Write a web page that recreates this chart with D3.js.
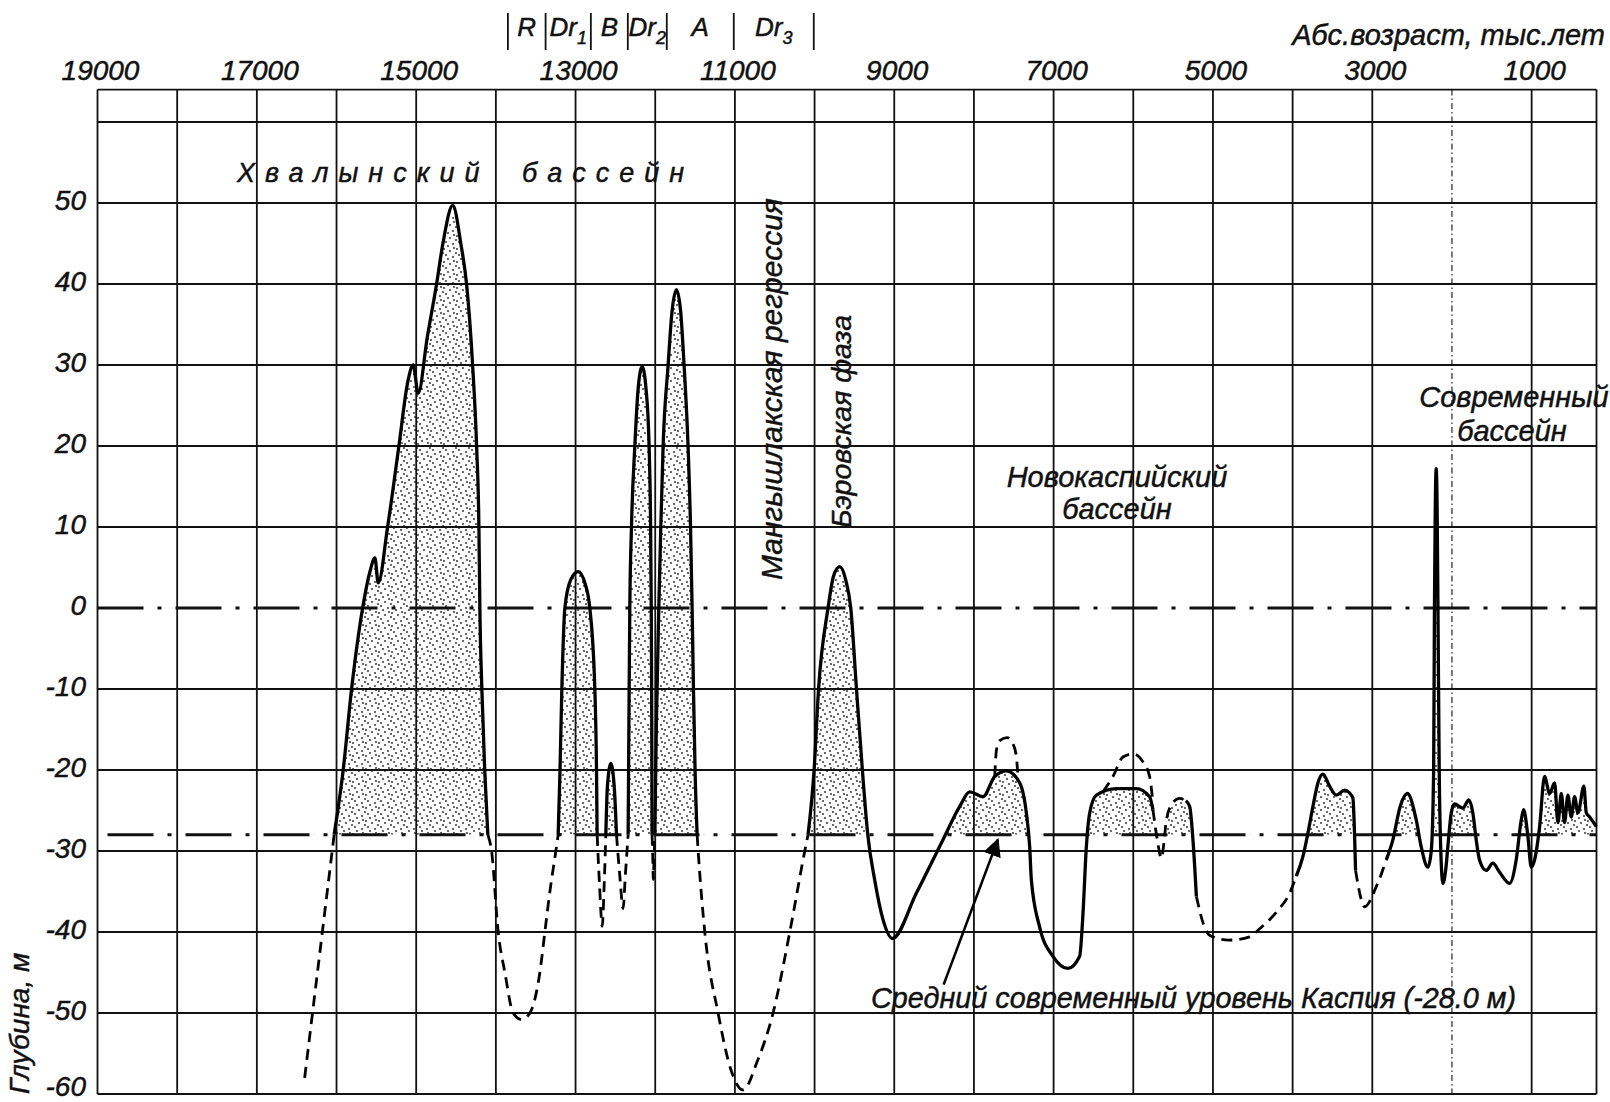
<!DOCTYPE html>
<html>
<head>
<meta charset="utf-8">
<script src="https://cdn.jsdelivr.net/npm/d3@7"></script>
<style>
  body { margin: 0; background: #fff; }
  text { font-family: "Liberation Sans", Arial, sans-serif; font-style: italic; fill: #111;
         stroke: #111; stroke-width: 0.45px; }
</style>
</head>
<body>
<div id="chart"></div>
<script>
// --- data ---
var yearLabels = [19000, 17000, 15000, 13000, 11000, 9000, 7000, 5000, 3000, 1000];
var gridYears = [19000, 18000, 17000, 16000, 15000, 14000, 13000, 12000, 11000, 10000,
                 9000, 8000, 7000, 6000, 5000, 4000, 3000, 2000, 1000];
var levelLabels = [50, 40, 30, 20, 10, 0, -10, -20, -30, -40, -50, -60];
var gridLevels = [60, 50, 40, 30, 20, 10, -10, -20, -30, -40, -50];
var refLevels = [0, -28];
var zoneBounds = [13849, 13376, 12808, 12344, 11855, 11014, 10010];
var zoneNames = [["R", ""], ["Dr", "1"], ["B", ""], ["Dr", "2"], ["A", ""], ["Dr", "3"]];

// level curve: [year, level, 1 = dashed segment starts here]
var levelCurve = [
  [16400, -58, 1], [16215, -43, 1], [16030, -28, 0], [15916, -20, 0], [15811, -10, 0],
  [15672, 0, 0], [15580, 4.5, 0], [15518, 6.2, 0], [15477, 3.1, 0], [15359, 10, 0],
  [15217, 20, 0], [15104, 28, 0], [15038, 30, 0], [14975, 26.5, 0], [14860, 33.5, 0],
  [14744, 40, 0], [14665, 45, 0], [14541, 49.7, 0], [14440, 45, 0], [14368, 40, 0],
  [14292, 30, 0], [14242, 20, 0], [14213, 10, 0], [14201, 0, 0], [14176, -10, 0],
  [14140, -20, 0], [14101, -28, 1], [14054, -30, 1], [13971, -40, 1], [13887, -45, 1],
  [13783, -50, 1], [13678, -50.8, 1], [13573, -50, 1], [13448, -45, 1], [13385, -40, 1],
  [13322, -35, 1], [13247, -30, 1], [13218, -28, 0], [13195, -20, 0], [13172, -10, 0],
  [13134, 0, 0], [13060, 3.5, 0], [12967, 4.5, 0], [12880, 3, 0], [12821, 0, 0],
  [12758, -10, 0], [12737, -20, 0], [12729, -28, 1], [12700, -34, 1], [12665, -39.3, 1],
  [12640, -34, 1], [12620, -28, 0], [12600, -22, 0], [12557, -19.2, 0], [12515, -22, 0],
  [12486, -28, 1], [12445, -33, 1], [12403, -37.1, 1], [12375, -33, 1], [12340, -28, 0],
  [12330, -14, 0], [12319, 0, 0], [12298, 10, 0], [12256, 20, 0], [12215, 27, 0],
  [12164, 29.8, 0], [12115, 27, 0], [12077, 20, 0], [12058, 10, 0], [12050, 0, 0],
  [12043, -15, 0], [12040, -28, 1], [12030, -31, 1], [12024, -33.5, 1], [12015, -31, 1],
  [12005, -28, 0], [11985, -14, 0], [11955, 0, 0], [11930, 10, 0], [11901, 20, 0],
  [11838, 30, 0], [11790, 36.5, 0], [11733, 39.3, 0], [11680, 36.5, 0], [11638, 30, 0],
  [11588, 20, 0], [11557, 10, 0], [11537, 0, 0], [11520, -10, 0], [11500, -20, 0],
  [11474, -28, 1], [11461, -30, 1], [11378, -40, 1], [11211, -50, 1], [11050, -57, 1],
  [10897, -59.5, 1], [10720, -56, 1], [10521, -50, 1], [10311, -40, 1], [10123, -30, 1],
  [10082, -28, 0], [10006, -20, 0], [9950, -10, 0], [9831, 0, 0], [9760, 4, 0],
  [9684, 5.1, 0], [9610, 3.5, 0], [9546, 0, 0], [9474, -10, 0], [9400, -20, 0],
  [9332, -28, 0], [9245, -33.6, 0], [9140, -38.5, 0], [9023, -40.8, 0], [8722, -35.2, 0],
  [8388, -28.6, 0], [8178, -24.5, 0], [8053, -22.7, 0], [7886, -23.3, 0], [7739, -20.8, 0],
  [7592, -20.1, 0], [7425, -21.6, 0], [7342, -25.3, 0], [7300, -29.5, 0], [7279, -33.6, 0],
  [7175, -39.4, 0], [7008, -43, 0], [6820, -44.5, 0], [6673, -43, 0], [6631, -37.7, 0],
  [6589, -29.5, 0], [6547, -25.3, 0], [6463, -23.1, 0], [6212, -22.3, 0], [5961, -22.3, 0],
  [5795, -23.3, 0], [5753, -24.9, 1], [5700, -28.5, 1], [5647, -30.9, 1], [5610, -28.5, 1],
  [5585, -26.2, 1], [5500, -24, 1], [5418, -23.5, 1], [5340, -23.8, 0], [5292, -24.5, 0],
  [5251, -28.6, 0], [5208, -35.6, 1], [5120, -39, 1], [5042, -40.4, 1], [4800, -41, 1],
  [4540, -40.6, 1], [4414, -39.6, 1], [4200, -37.5, 1], [4037, -35.2, 1], [3954, -33.1, 0],
  [3871, -30.7, 0], [3808, -27.8, 0], [3745, -24.5, 0], [3680, -21.5, 0], [3620, -20.5, 0],
  [3536, -22, 0], [3452, -23.1, 0], [3348, -22.5, 0], [3290, -22.8, 0], [3243, -23.5, 0],
  [3222, -28.2, 0], [3210, -32.4, 1], [3138, -36, 1], [3097, -36.9, 1], [2950, -34.4, 1],
  [2825, -31.1, 0], [2741, -28.6, 0], [2650, -24.5, 0], [2560, -22.9, 0], [2448, -26.2, 0],
  [2386, -29.5, 0], [2302, -32, 0], [2260, -30, 0], [2230, -20, 0], [2220, 0, 0],
  [2210, 12, 0], [2198, 17.2, 0], [2186, 12, 0], [2176, 0, 0], [2160, -20, 0],
  [2140, -30, 0], [2114, -34, 0], [2075, -32, 0], [2052, -29.5, 0], [2009, -25.3, 0],
  [1968, -24.2, 0], [1863, -24.7, 0], [1788, -23.7, 0], [1738, -25.3, 0], [1696, -28.6, 0],
  [1654, -31.1, 0], [1570, -32.4, 0], [1487, -31.5, 0], [1404, -32.6, 0], [1278, -34, 0],
  [1194, -31.1, 0], [1131, -26.2, 0], [1101, -24.9, 0], [1047, -28.2, 0], [1005, -32, 0],
  [963, -31.1, 0], [900, -27, 0], [838, -20.8, 0], [775, -22.9, 0], [712, -21.6, 0],
  [670, -26.5, 0], [628, -22.9, 0], [587, -26.5, 0], [545, -23.1, 0], [503, -25.8, 0],
  [461, -23.3, 0], [419, -25.3, 0], [344, -22, 0], [314, -25.3, 0], [272, -25.8, 0],
  [188, -27, 0]
];
// alternative (dashed) peaks above the Novocaspian curve
var altPeakEarly = [[7739, -20.8], [7717, -17.5], [7680, -16.4], [7585, -16], [7500, -17], [7467, -18.4], [7447, -20.8]];
var altPeakLate = [[6380, -22.7], [6255, -20.8], [6130, -18.4], [6004, -18], [5878, -19], [5795, -20.8], [5761, -23.3]];

var width = 1610, height = 1102;
var x = d3.scaleLinear().domain([19000, 186]).range([97.5, 1596.5]);
var y = d3.scaleLinear().domain([-60, 64]).range([1094, 89.6]);

var svg = d3.select("#chart").append("svg")
  .attr("width", width)
  .attr("height", height);

var defs = svg.append("defs");
var pat = defs.append("pattern")
  .attr("id", "dots")
  .attr("patternUnits", "userSpaceOnUse")
  .attr("width", 13)
  .attr("height", 13);
pat.append("rect").attr("width", 13).attr("height", 13).attr("fill", "#fff");
[[2, 2], [8, 4], [4, 8], [11, 10], [6, 12], [12, 1], [1, 6]].forEach(function (p) {
  pat.append("circle").attr("cx", p[0]).attr("cy", p[1]).attr("r", 0.9).attr("fill", "#222");
});
defs.append("clipPath").attr("id", "aboveMean")
  .append("rect")
  .attr("x", x(19000)).attr("y", y(64))
  .attr("width", x(186) - x(19000)).attr("height", y(-28) - y(64));

// stippled area above the mean level
var area = d3.area()
  .x(function (d) { return x(d[0]); })
  .y0(y(-28))
  .y1(function (d) { return y(d[1]); })
  .curve(d3.curveMonotoneX);
svg.append("path")
  .datum(levelCurve)
  .attr("clip-path", "url(#aboveMean)")
  .attr("fill", "url(#dots)")
  .attr("d", area);

// grid
svg.append("g").selectAll("line")
  .data(gridYears)
  .enter().append("line")
  .attr("x1", function (d) { return x(d); })
  .attr("x2", function (d) { return x(d); })
  .attr("y1", y(64)).attr("y2", y(-60))
  .attr("stroke", "#111")
  .attr("stroke-width", function (d) { return d === 2000 ? 1.1 : 1.8; })
  .attr("stroke-dasharray", function (d) { return d === 2000 ? "6,3,1.5,3" : null; });
svg.append("line")
  .attr("x1", x(186)).attr("x2", x(186))
  .attr("y1", y(64)).attr("y2", y(-60))
  .attr("stroke", "#111").attr("stroke-width", 1.8);
svg.append("g").selectAll("line")
  .data(gridLevels.concat([64, -60]))
  .enter().append("line")
  .attr("x1", x(19000)).attr("x2", x(186))
  .attr("y1", function (d) { return y(d); })
  .attr("y2", function (d) { return y(d); })
  .attr("stroke", "#111")
  .attr("stroke-width", 1.8);

// dash-dot reference levels
svg.append("g").selectAll("line")
  .data(refLevels)
  .enter().append("line")
  .attr("x1", x(19000)).attr("x2", x(186))
  .attr("y1", function (d) { return y(d); })
  .attr("y2", function (d) { return y(d); })
  .attr("stroke", "#111")
  .attr("stroke-width", 3)
  .attr("stroke-dasharray", "46,14,4,14")
  .attr("stroke-dashoffset", function (d) { return d === 0 ? 0 : 68; });

// level curve, split into solid and dashed runs
var segs = [];
for (var i = 0; i < levelCurve.length - 1; i++) {
  var st = levelCurve[i][2];
  if (!segs.length || segs[segs.length - 1].st !== st) {
    segs.push({ st: st, pts: [levelCurve[i]] });
  }
  segs[segs.length - 1].pts.push(levelCurve[i + 1]);
}
var line = d3.line()
  .x(function (d) { return x(d[0]); })
  .y(function (d) { return y(d[1]); })
  .curve(d3.curveMonotoneX);
svg.append("g").selectAll("path")
  .data(segs)
  .enter().append("path")
  .attr("d", function (d) { return line(d.pts); })
  .attr("fill", "none")
  .attr("stroke", "#000")
  .attr("stroke-width", function (d) { return d.st ? 2.8 : 3.3; })
  .attr("stroke-dasharray", function (d) { return d.st ? "11,7" : null; });
svg.append("g").selectAll("path")
  .data([altPeakEarly, altPeakLate])
  .enter().append("path")
  .attr("d", line)
  .attr("fill", "none")
  .attr("stroke", "#000")
  .attr("stroke-width", 2.8)
  .attr("stroke-dasharray", "11,7");

// axis labels
svg.append("g").selectAll("text")
  .data(yearLabels)
  .enter().append("text")
  .attr("x", function (d) { return x(d) + 3; })
  .attr("y", 80)
  .attr("text-anchor", "middle")
  .style("font-size", "28px")
  .text(function (d) { return d; });
svg.append("g").selectAll("text")
  .data(levelLabels)
  .enter().append("text")
  .attr("x", 86)
  .attr("y", function (d) { return Math.min(y(d) + 7, 1096); })
  .attr("text-anchor", "end")
  .style("font-size", "28px")
  .text(function (d) { return d; });
svg.append("text")
  .attr("x", 1605).attr("y", 45)
  .attr("text-anchor", "end")
  .style("font-size", "29px")
  .text("Абс.возраст, тыс.лет");
svg.append("text")
  .attr("transform", "translate(29,1094) rotate(-90)")
  .style("font-size", "28px")
  .text("Глубина, м");

// climatic zones on top
svg.append("g").selectAll("line")
  .data(zoneBounds)
  .enter().append("line")
  .attr("x1", function (d) { return x(d); })
  .attr("x2", function (d) { return x(d); })
  .attr("y1", 13).attr("y2", 50)
  .attr("stroke", "#111").attr("stroke-width", 1.8);
var zt = svg.append("g").selectAll("text")
  .data(zoneNames)
  .enter().append("text")
  .attr("x", function (d, i) { return (x(zoneBounds[i]) + x(zoneBounds[i + 1])) / 2; })
  .attr("y", 36)
  .attr("text-anchor", "middle")
  .style("font-size", "26px");
zt.append("tspan").text(function (d) { return d[0]; });
zt.append("tspan")
  .attr("dy", 8)
  .style("font-size", "18px")
  .text(function (d) { return d[1]; });

// annotations
svg.append("text").attr("x", 237).attr("y", 182)
  .style("font-size", "27px").style("letter-spacing", "10px")
  .text("Хвалынский");
svg.append("text").attr("x", 522).attr("y", 182)
  .style("font-size", "27px").style("letter-spacing", "10px")
  .text("бассейн");
svg.append("text")
  .attr("transform", "translate(782,580) rotate(-90)")
  .style("font-size", "30px")
  .text("Мангышлакская регрессия");
svg.append("text")
  .attr("transform", "translate(851,528) rotate(-90)")
  .style("font-size", "28.5px")
  .text("Бэровская фаза");
svg.append("text").attr("x", 1117).attr("y", 487)
  .attr("text-anchor", "middle").style("font-size", "29px")
  .text("Новокаспийский");
svg.append("text").attr("x", 1117).attr("y", 519)
  .attr("text-anchor", "middle").style("font-size", "29px")
  .text("бассейн");
svg.append("text").attr("x", 1514).attr("y", 407)
  .attr("text-anchor", "middle").style("font-size", "29px")
  .text("Современный");
svg.append("text").attr("x", 1512).attr("y", 441)
  .attr("text-anchor", "middle").style("font-size", "29px")
  .text("бассейн");
svg.append("text").attr("x", 871).attr("y", 1008)
  .style("font-size", "28.8px")
  .text("Средний современный уровень Каспия (-28.0 м)");

// arrow to the mean level
defs.append("marker")
  .attr("id", "head")
  .attr("viewBox", "0 0 10 10")
  .attr("refX", 9).attr("refY", 5)
  .attr("markerWidth", 7).attr("markerHeight", 7)
  .attr("orient", "auto")
  .append("path").attr("d", "M0,0L10,5L0,10z").attr("fill", "#000");
svg.append("line")
  .attr("x1", x(8380)).attr("y1", y(-46.5))
  .attr("x2", x(7700)).attr("y2", y(-28.6))
  .attr("stroke", "#000").attr("stroke-width", 2.6)
  .attr("marker-end", "url(#head)");
</script>
</body>
</html>
